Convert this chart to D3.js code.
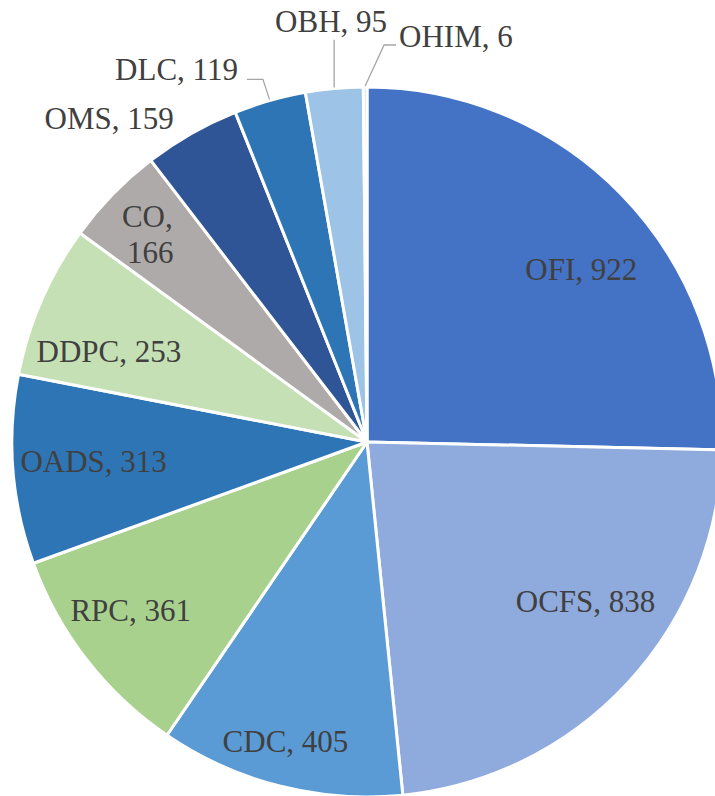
<!DOCTYPE html>
<html lang="en">
<head>
  <meta charset="UTF-8">
  <title>Pie</title>
  <style>
    body { margin: 0; background: #fff; }
    .lbl { font-family: "Liberation Serif", "Times New Roman", serif; font-size: 31px; fill: #404040; }
    .leader { fill: none; stroke: #a6a6a6; stroke-width: 1.3px; }
  </style>
</head>
<body>
  <script src="https://cdn.jsdelivr.net/npm/d3@7"></script>
  <script>
    const names = ['OFI', 'OCFS', 'CDC', 'RPC', 'OADS', 'DDPC', 'CO', 'OMS', 'DLC', 'OBH', 'OHIM'];
    const values = [922, 838, 405, 361, 313, 253, 166, 159, 119, 95, 6];
    const colors = ['#4472c4', '#8faadc', '#5b9bd5', '#a9d18e', '#2e75b6', '#c5e0b4',
                    '#aeaaaa', '#2f5597', '#2e75b6', '#9dc3e6', '#bdd7ee'];

    const width = 715, height = 796;
    const cx = 367, cy = 442, r = 355;

    // label placement (tweaks from the centroid, like Excel "best fit")
    const outside = ['OMS', 'DLC', 'OBH', 'OHIM'];
    const nudge = {
      OFI: [24, 13], OCFS: [23, -22], CDC: [-16, 41], RPC: [-26, 5], OADS: [-8, -2],
      DDPC: [-14, 15], CO: [-29, -22], OMS: [-60, 24], DLC: [-81, 12], OBH: [1, -23], OHIM: [91, -6]
    };
    const leader = { DLC: 'right', OBH: 'below', OHIM: 'left' };

    const data = names.map((n, i) => ({ name: n, value: values[i], color: colors[i] }));

    const svg = d3.select('body').append('svg')
      .attr('width', width).attr('height', height);
    const g = svg.append('g').attr('transform', `translate(${cx},${cy})`);

    const pie = d3.pie().sort(null).value(d => d.value);
    const arc = d3.arc().innerRadius(0).outerRadius(r);
    const arcs = pie(data);

    g.selectAll('path.slice').data(arcs)
      .enter().append('path')
        .attr('class', 'slice')
        .attr('d', arc)
        .attr('fill', d => d.data.color)
        .attr('stroke', '#fff')
        .attr('stroke-width', 3)
        .attr('stroke-linejoin', 'round');

    const polar = (a, rad) => [rad * Math.sin(a), -rad * Math.cos(a)];

    arcs.forEach(function(d) {
      const mid = (d.startAngle + d.endAngle) / 2;
      const isOut = outside.includes(d.data.name);
      const base = polar(mid, isOut ? 400 : r * 0.75);
      const nd = nudge[d.data.name] || [0, 0];
      const x = base[0] + nd[0], y = base[1] + nd[1];
      const txt = g.append('text')
        .attr('class', 'lbl')
        .attr('text-anchor', 'middle');
      if (d.data.name === 'CO') {
        txt.append('tspan').attr('x', x).attr('y', y - 18 + 11).text(d.data.name + ',');
        txt.append('tspan').attr('x', x + 3).attr('y', y + 18 + 11).text(d.data.value);
      } else {
        txt.attr('x', x).attr('y', y + 11).text(d.data.name + ', ' + d.data.value);
      }

      const side = leader[d.data.name];
      if (!side) return;
      const bb = txt.node().getBBox();
      const baseY = y + 11;
      const edge = polar(mid, r + 1);
      let pts;
      if (side === 'right') {
        pts = [[bb.x + bb.width + 9, baseY - 1], [bb.x + bb.width + 25, baseY - 1], edge];
      } else if (side === 'left') {
        pts = [[bb.x - 3, baseY - 2], [bb.x - 15, baseY - 2], edge];
      } else {
        pts = [[edge[0], baseY + 8], edge];
      }
      g.append('path').attr('class', 'leader').attr('d', d3.line()(pts));
    });
  </script>
</body>
</html>
